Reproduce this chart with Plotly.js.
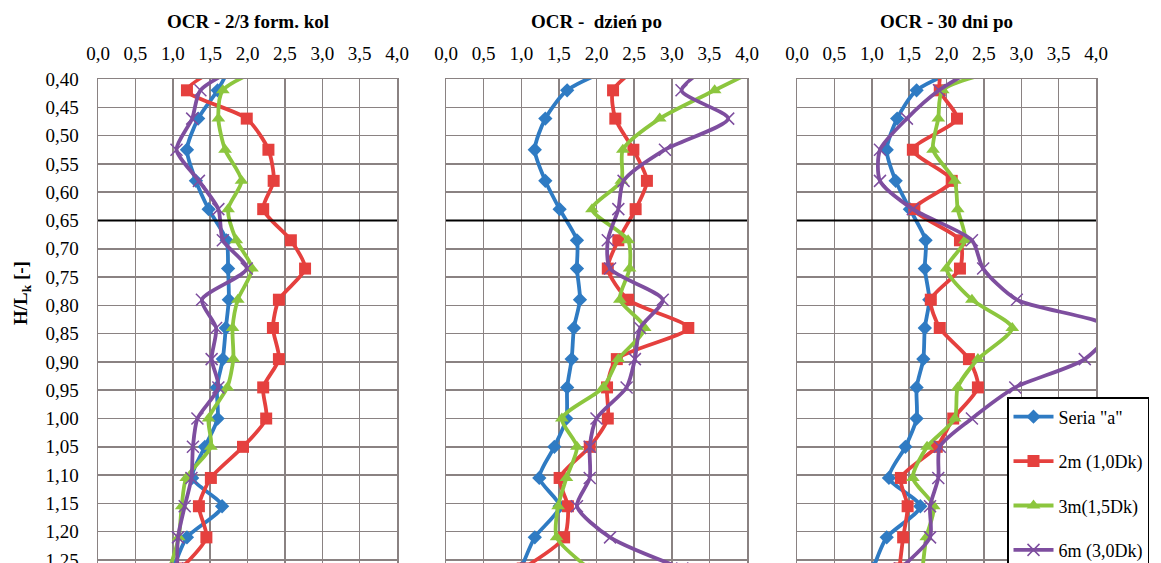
<!DOCTYPE html>
<html>
<head>
<meta charset="utf-8">
<script src="https://cdn.plot.ly/plotly-3.0.1.min.js"></script>
<style>html,body{margin:0;padding:0;background:#fff;overflow:hidden;}#chart{width:1161px;height:580px;}</style>
</head>
<body>
<div id="chart"></div>
<script>
// H/L_k depth levels (first and last lie just outside the visible window)
const hLk = [0.365, 0.42, 0.47, 0.525, 0.58, 0.63, 0.685, 0.735, 0.79, 0.84, 0.895, 0.945, 1.0, 1.05, 1.105, 1.155, 1.21, 1.265];

const seriesNames = ['Seria "a"', '2m (1,0Dk)', '3m(1,5Dk)', '6m (3,0Dk)'];
const panelTitles = ['OCR - 2/3 form. kol', 'OCR -  dzień po', 'OCR - 30 dni po'];

// Panel 1: OCR - 2/3 form. kol
const p1SeriaA = [1.82, 1.60, 1.34, 1.19, 1.31, 1.48, 1.72, 1.74, 1.75, 1.71, 1.67, 1.59, 1.60, 1.43, 1.26, 1.66, 1.19, 1.01];
const p1Dk10   = [1.85, 1.19, 1.99, 2.28, 2.35, 2.21, 2.58, 2.77, 2.42, 2.34, 2.42, 2.21, 2.25, 1.94, 1.51, 1.35, 1.45, 1.11];
const p1Dk15   = [2.50, 1.67, 1.61, 1.70, 1.92, 1.74, 1.85, 2.06, 1.87, 1.80, 1.81, 1.73, 1.48, 1.51, 1.18, 1.12, 1.08, 0.96];
const p1Dk30   = [2.10, 1.37, 1.26, 1.05, 1.35, 1.61, 1.67, 1.99, 1.39, 1.58, 1.52, 1.61, 1.33, 1.27, 1.25, 1.16, 1.07, 1.06];

// Panel 2: OCR - dzień po
const p2SeriaA = [2.50, 1.61, 1.32, 1.18, 1.32, 1.51, 1.74, 1.74, 1.78, 1.70, 1.67, 1.61, 1.60, 1.44, 1.24, 1.51, 1.18, 1.00];
const p2Dk10   = [2.70, 2.22, 2.25, 2.49, 2.67, 2.52, 2.29, 2.15, 2.42, 3.22, 2.27, 2.14, 2.15, 1.91, 1.51, 1.62, 1.57, 1.02];
const p2Dk15   = [4.40, 3.57, 2.84, 2.35, 2.33, 1.94, 2.42, 2.44, 2.31, 2.64, 2.29, 2.09, 1.54, 1.74, 1.60, 1.49, 1.47, 1.90];
const p2Dk30   = [3.65, 3.13, 3.75, 2.91, 2.36, 2.29, 2.15, 2.18, 2.88, 2.58, 2.51, 2.40, 2.00, 1.91, 1.91, 1.74, 2.18, 3.14];

// Panel 3: OCR - 30 dni po
const p3SeriaA = [2.50, 1.60, 1.34, 1.20, 1.32, 1.51, 1.72, 1.71, 1.77, 1.71, 1.69, 1.60, 1.60, 1.45, 1.23, 1.65, 1.20, 1.02];
const p3Dk10   = [1.95, 1.91, 2.14, 1.55, 2.07, 1.57, 2.18, 2.18, 1.79, 1.91, 2.30, 2.42, 2.09, 1.87, 1.39, 1.48, 1.42, 1.37];
const p3Dk15   = [3.40, 1.95, 1.89, 1.82, 2.11, 2.15, 2.25, 2.00, 2.34, 2.88, 2.42, 2.15, 2.11, 1.74, 1.55, 1.83, 1.73, 1.68];
const p3Dk30   = [2.60, 1.90, 1.47, 1.11, 1.11, 1.55, 2.34, 2.49, 2.94, 4.20, 3.85, 2.92, 2.34, 1.91, 1.89, 1.78, 1.78, 1.38];

const xTicks = [0, 0.5, 1, 1.5, 2, 2.5, 3, 3.5, 4];
const xTickLabels = ['0,0', '0,5', '1,0', '1,5', '2,0', '2,5', '3,0', '3,5', '4,0'];
const yTicks = [0.40, 0.45, 0.50, 0.55, 0.60, 0.65, 0.70, 0.75, 0.80, 0.85, 0.90, 0.95, 1.00, 1.05, 1.10, 1.15, 1.20, 1.25];
const yTickLabels = ['0,40', '0,45', '0,50', '0,55', '0,60', '0,65', '0,70', '0,75', '0,80', '0,85', '0,90', '0,95', '1,00', '1,05', '1,10', '1,15', '1,20', '1,25'];
const boundaryLevel = 0.65;

const panels = [
  [p1SeriaA, p1Dk10, p1Dk15, p1Dk30],
  [p2SeriaA, p2Dk10, p2Dk15, p2Dk30],
  [p3SeriaA, p3Dk10, p3Dk15, p3Dk30]
];

const colors = ['#2F7BC3', '#E5403E', '#8CC63E', '#7E4E9F'];
const markers = [
  {symbol: 'diamond', size: 11},
  {symbol: 'square', size: 12},
  {symbol: 'triangle-up', size: 12},
  {symbol: 'x-thin-open', size: 12}
];

const traces = [];
panels.forEach((set, p) => {
  set.forEach((vals, s) => {
    const m = markers[s];
    const marker = {symbol: m.symbol, size: m.size, color: colors[s]};
    if (m.symbol === 'x-thin-open') marker.line = {color: colors[s], width: 1.5};
    traces.push({
      type: 'scatter',
      mode: 'lines+markers',
      x: vals,
      y: hLk,
      xaxis: p === 0 ? 'x' : 'x' + (p + 1),
      yaxis: p === 0 ? 'y' : 'y' + (p + 1),
      name: seriesNames[s],
      legendgroup: 'g' + s,
      showlegend: p === 0,
      line: {color: colors[s], width: 3.8, shape: 'spline', smoothing: 0.7},
      marker: marker,
      cliponaxis: true,
      hoverinfo: 'skip'
    });
  });
});

const W = 1161, H = 580;
const gridColor = '#8a8282';
const pxDom = [[98, 397], [446, 747], [797, 1096]];
const yTop = 79;
const serif = 'Liberation Serif';

const layout = {
  width: W, height: H,
  margin: {l: 0, r: 0, t: 0, b: 0, autoexpand: false},
  paper_bgcolor: '#ffffff',
  plot_bgcolor: '#ffffff',
  font: {family: serif, size: 18, color: '#000'},
  showlegend: true,
  legend: {
    x: 1007 / W, y: 1 - 397 / H, xanchor: 'left', yanchor: 'top',
    bgcolor: '#ffffff', bordercolor: '#000000', borderwidth: 1.5,
    font: {family: serif, size: 18, color: '#000'},
    traceorder: 'grouped', tracegroupgap: 18, itemwidth: 40
  },
  shapes: [],
  annotations: []
};

pxDom.forEach((d, i) => {
  const xa = i === 0 ? 'xaxis' : 'xaxis' + (i + 1);
  const ya = i === 0 ? 'yaxis' : 'yaxis' + (i + 1);
  const xid = i === 0 ? 'x' : 'x' + (i + 1);
  const yid = i === 0 ? 'y' : 'y' + (i + 1);
  layout[xa] = {
    domain: [d[0] / W, d[1] / W],
    range: [0, 4],
    side: 'top',
    anchor: yid,
    tickvals: xTicks, ticktext: xTickLabels,
    showgrid: true, gridcolor: gridColor, gridwidth: 1.5,
    showline: true, linecolor: gridColor, linewidth: 1.5, mirror: true,
    zeroline: false, ticks: '', ticklabelstandoff: 10,
    tickfont: {family: serif, size: 19}, fixedrange: true
  };
  layout[ya] = {
    domain: [0, 1 - yTop / H],
    range: [1.2553 + (H - 563) / 28.3 * 0.05, 0.40],
    anchor: xid,
    tickvals: yTicks, ticktext: yTickLabels,
    showticklabels: i === 0, ticklabeloverflow: 'allow',
    showgrid: true, gridcolor: gridColor, gridwidth: 1.5,
    showline: true, linecolor: gridColor, linewidth: 1.5, mirror: true,
    zeroline: false, ticks: '', ticklabelstandoff: 14,
    tickfont: {family: serif, size: 19}, fixedrange: true
  };
  layout.shapes.push({
    type: 'line', xref: xid + ' domain', yref: yid,
    x0: 0, x1: 1, y0: boundaryLevel, y1: boundaryLevel,
    line: {color: '#000', width: 2}, layer: 'above'
  });
  layout.annotations.push({
    text: '<b>' + panelTitles[i] + '</b>',
    xref: 'paper', yref: 'paper',
    x: (d[0] + d[1]) / 2 / W, y: 1 - 22 / H,
    xanchor: 'center', yanchor: 'middle',
    showarrow: false, font: {family: serif, size: 19}
  });
});

layout.annotations.push({
  text: '<b>H/L<sub>k</sub> [-]</b>',
  xref: 'paper', yref: 'paper',
  x: 22 / W, y: 1 - 293 / H,
  xanchor: 'center', yanchor: 'middle',
  textangle: -90, showarrow: false, font: {family: serif, size: 19}
});

Plotly.newPlot('chart', traces, layout, {staticPlot: true, displayModeBar: false});
</script>
</body>
</html>
